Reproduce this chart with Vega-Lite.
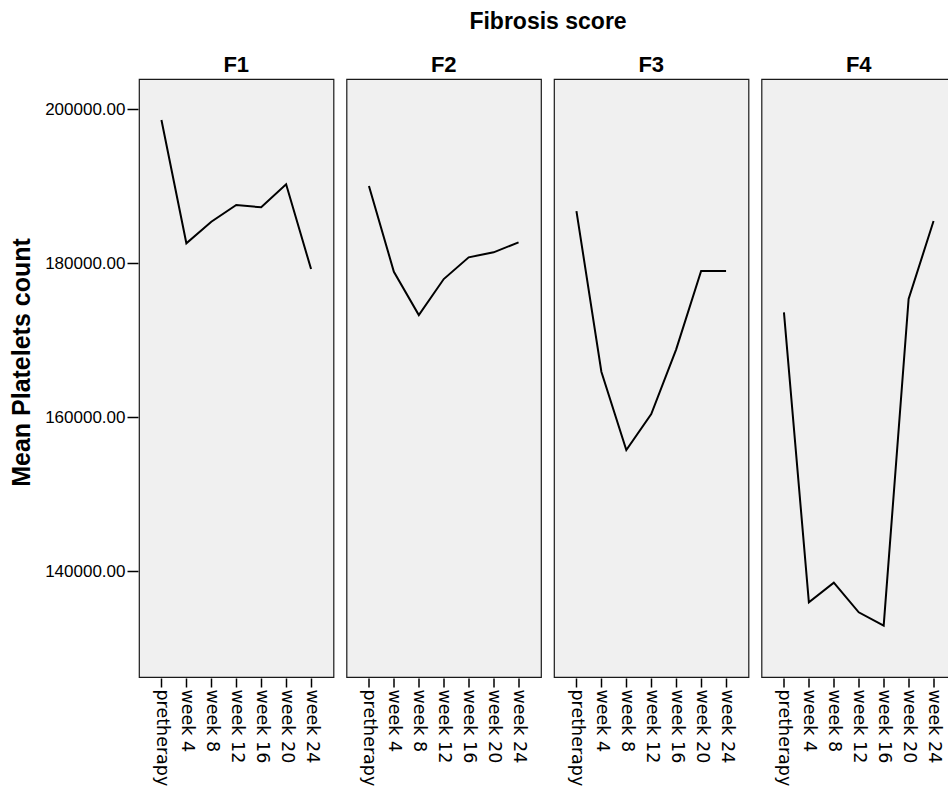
{
  "$schema": "https://vega.github.io/schema/vega-lite/v6.json",
  "padding": {"left": 9, "top": 11, "right": 0, "bottom": 0},
  "background": "white",
  "data": {"values": [
    {"score": "F1", "time": "pretherapy", "platelets": 198570},
    {"score": "F1", "time": "week 4", "platelets": 182570},
    {"score": "F1", "time": "week 8", "platelets": 185370},
    {"score": "F1", "time": "week 12", "platelets": 187540},
    {"score": "F1", "time": "week 16", "platelets": 187240},
    {"score": "F1", "time": "week 20", "platelets": 190230},
    {"score": "F1", "time": "week 24", "platelets": 179230},
    {"score": "F2", "time": "pretherapy", "platelets": 190000},
    {"score": "F2", "time": "week 4", "platelets": 178880},
    {"score": "F2", "time": "week 8", "platelets": 173260},
    {"score": "F2", "time": "week 12", "platelets": 177930},
    {"score": "F2", "time": "week 16", "platelets": 180750},
    {"score": "F2", "time": "week 20", "platelets": 181400},
    {"score": "F2", "time": "week 24", "platelets": 182700},
    {"score": "F3", "time": "pretherapy", "platelets": 186760},
    {"score": "F3", "time": "week 4", "platelets": 165900},
    {"score": "F3", "time": "week 8", "platelets": 155740},
    {"score": "F3", "time": "week 12", "platelets": 160410},
    {"score": "F3", "time": "week 16", "platelets": 168810},
    {"score": "F3", "time": "week 20", "platelets": 178970},
    {"score": "F3", "time": "week 24", "platelets": 178970},
    {"score": "F4", "time": "pretherapy", "platelets": 173610},
    {"score": "F4", "time": "week 4", "platelets": 135970},
    {"score": "F4", "time": "week 8", "platelets": 138520},
    {"score": "F4", "time": "week 12", "platelets": 134670},
    {"score": "F4", "time": "week 16", "platelets": 132940},
    {"score": "F4", "time": "week 20", "platelets": 175340},
    {"score": "F4", "time": "week 24", "platelets": 185460}
  ]},
  "facet": {
    "column": {"field": "score", "type": "nominal", "title": "Fibrosis score", "sort": ["F1", "F2", "F3", "F4"]}
  },
  "spacing": 10.5,
  "spec": {
    "width": 194.5,
    "height": 598,
    "mark": {"type": "line", "color": "black", "strokeWidth": 2},
    "encoding": {
      "x": {
        "field": "time", "type": "ordinal",
        "sort": ["pretherapy", "week 4", "week 8", "week 12", "week 16", "week 20", "week 24"],
        "scale": {"type": "point", "padding": 0.9},
        "axis": {"title": null, "labelAngle": 90, "labelFont": "DejaVu Sans", "labelFontSize": 17.5, "labelColor": "black", "tickSize": 9, "tickColor": "black", "tickWidth": 1.5, "labelPadding": 2, "domain": false, "grid": false}
      },
      "y": {
        "field": "platelets", "type": "quantitative",
        "scale": {"domain": [126270, 203900], "nice": false, "zero": false},
        "axis": {"title": "Mean Platelets count", "titleFont": "Liberation Sans", "titleFontSize": 25, "titleFontWeight": "bold", "titleColor": "black", "titlePadding": 10, "titleY": 283, "labelFont": "Liberation Sans", "labelFontSize": 17, "labelColor": "black", "format": ".2f", "values": [140000, 160000, 180000, 200000], "tickSize": 11, "tickColor": "black", "tickWidth": 1.5, "labelPadding": 2, "domain": false, "grid": false}
      }
    }
  },
  "config": {
    "view": {"fill": "#f0f0f0", "stroke": "#1a1a1a", "strokeWidth": 1.2},
    "header": {"titleFont": "Liberation Sans", "titleFontSize": 23, "titleFontWeight": "bold", "titleColor": "black", "titlePadding": 10, "labelFont": "Liberation Sans", "labelFontSize": 22, "labelFontWeight": "bold", "labelColor": "black", "labelPadding": 1}
  }
}
